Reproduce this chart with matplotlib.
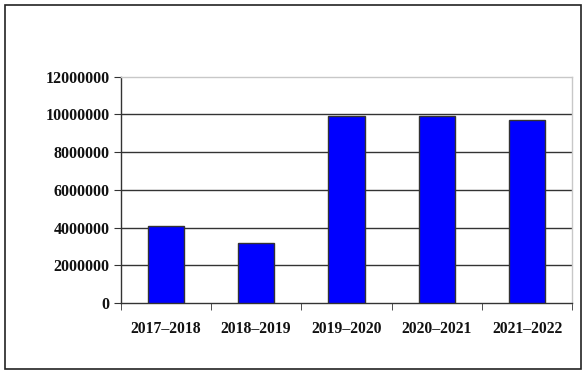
import matplotlib
matplotlib.use("Agg")
import matplotlib.pyplot as plt
from matplotlib.patches import Rectangle
import numpy as np

categories = ["2017–2018", "2018–2019", "2019–2020", "2020–2021", "2021–2022"]
values = [4100000, 3180000, 9930000, 9930000, 9690000]
yticks = [0, 2000000, 4000000, 6000000, 8000000, 10000000, 12000000]

plt.rcParams['font.family'] = ['Liberation Serif', 'DejaVu Serif']
plt.rcParams['font.weight'] = 'bold'

fig = plt.figure(figsize=(5.88, 3.75), dpi=100)
# outer frame
fig.patches.append(Rectangle((5/588, 1-369/375), 576/588, 364/375, transform=fig.transFigure,
                             fill=False, edgecolor='#222222', linewidth=1.2))

ax = fig.add_axes([120.7/588, 1-303/375, (572.3-120.7)/588, (303-76.7)/375])
x = np.arange(len(categories))
ax.bar(x, values, width=0.4, color='#0000FF', edgecolor='#333333', linewidth=1, zorder=3)
ax.set_xlim(-0.5, len(categories)-0.5)
ax.set_ylim(0, 12000000)
ax.set_yticks(yticks)
ax.set_yticklabels([str(v) for v in yticks], fontsize=11.5, fontweight='bold', color='#111111')
for v in yticks[1:-1]:
    ax.axhline(v, color='#333333', linewidth=1, zorder=1)
ax.set_xticks(x)
ax.set_xticklabels(categories, fontsize=11.3, fontweight='bold', color='#111111')
ax.tick_params(axis='x', length=0, pad=13)
ax.set_xticks(np.arange(-0.5, len(categories)), minor=True)
ax.tick_params(axis='x', which='minor', length=5, color='#333333', direction='out')
ax.tick_params(axis='y', length=5, color='#333333', direction='out', pad=3)
for s in ['top', 'right']:
    ax.spines[s].set_color('#c8c8c8')
    ax.spines[s].set_linewidth(1)
for s in ['left', 'bottom']:
    ax.spines[s].set_color('#333333')
    ax.spines[s].set_linewidth(1)
fig.savefig("out.png", dpi=100)
